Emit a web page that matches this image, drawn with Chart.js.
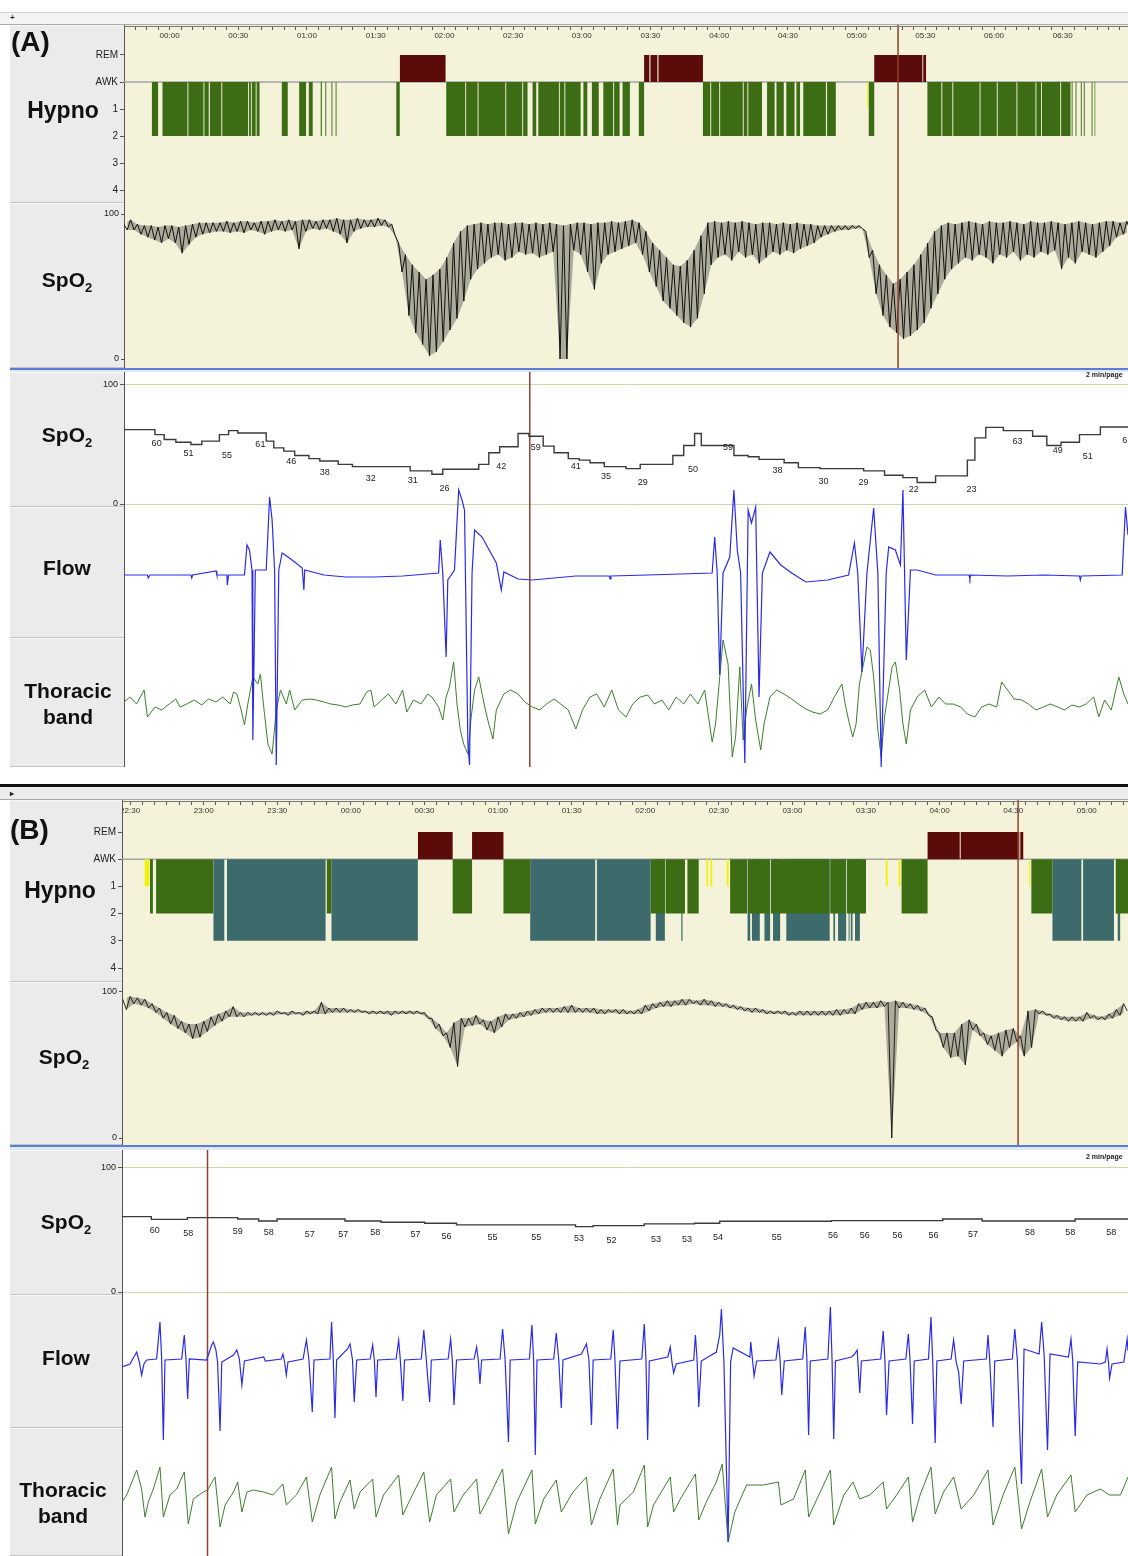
<!DOCTYPE html>
<html>
<head>
<meta charset="utf-8">
<title>Hypnogram, SpO2, flow and thoracic band</title>
<script src="https://cdn.jsdelivr.net/npm/chart.js@4.4.1/dist/chart.umd.min.js"></script>
<style>
  html, body { margin: 0; padding: 0; background: #fff; }
  #page { position: relative; width: 1128px; height: 1556px; overflow: hidden; font-family: "Liberation Sans", Arial, sans-serif; }
  .cell { position: absolute; left: 10px; background: #ebebeb; box-sizing: border-box; border-top: 1px solid #f8f8f8; border-bottom: 1px solid #c4c4c4; z-index: 0; }
  .lbl { position: absolute; transform: translate(-50%, -50%); font-weight: bold; font-size: 21px; color: #111; white-space: nowrap; z-index: 5; }
  .lbl sub { font-size: 13px; vertical-align: -5px; line-height: 0; }
  .tag { position: absolute; font-weight: bold; font-size: 28px; color: #111; z-index: 5; }
  .mpp { position: absolute; font-size: 7px; font-weight: bold; color: #222; z-index: 5; white-space: nowrap; }
  .bar { position: absolute; left: 0; width: 1128px; box-sizing: border-box; }
  canvas { position: absolute; left: 10px; }
</style>
</head>
<body>
<div id="page">
  <!-- panel A header and label column -->
  <div class="bar" style="top:12px;height:13px;background:#f3f3f3;border-top:1px solid #cfcfcf;border-bottom:1px solid #a9a9a9;"></div>
  <div class="mpp" style="left:10px;top:13px;font-size:8px;">+</div>
  <div class="cell" style="top:25px;height:178px;width:114px;"></div>
  <div class="cell" style="top:203px;height:165px;width:114px;"></div>
  <div class="bar" style="top:368px;height:4px;left:10px;width:1118px;background:#dfe6f5;border-top:2px solid #5b7fd0;"></div>
  <div class="cell" style="top:372px;height:135px;width:114px;"></div>
  <div class="cell" style="top:507px;height:131px;width:114px;"></div>
  <div class="cell" style="top:638px;height:129px;width:114px;"></div>
  <div class="tag" style="left:11px;top:26px;">(A)</div>
  <div class="lbl" style="left:63px;top:110px;font-size:23px;">Hypno</div>
  <div class="lbl" style="left:67px;top:280px;">SpO<sub>2</sub></div>
  <div class="lbl" style="left:67px;top:435px;">SpO<sub>2</sub></div>
  <div class="lbl" style="left:67px;top:568px;">Flow</div>
  <div class="lbl" style="left:68px;top:691px;">Thoracic</div>
  <div class="lbl" style="left:68px;top:717px;">band</div>
  <div class="mpp" style="left:1086px;top:371px;">2 min/page</div>

  <!-- panel B header and label column -->
  <div class="bar" style="top:784px;height:3px;background:#111;"></div>
  <div class="bar" style="top:787px;height:13px;background:#ececec;border-bottom:1px solid #a9a9a9;"></div>
  <div class="mpp" style="left:10px;top:789px;font-size:8px;">&#9656;</div>
  <div class="cell" style="top:800px;height:182px;width:112px;"></div>
  <div class="cell" style="top:982px;height:163px;width:112px;"></div>
  <div class="bar" style="top:1145px;height:5px;left:10px;width:1118px;background:#dfe6f5;border-top:2px solid #5b7fd0;"></div>
  <div class="cell" style="top:1150px;height:145px;width:112px;"></div>
  <div class="cell" style="top:1295px;height:133px;width:112px;"></div>
  <div class="cell" style="top:1428px;height:128px;width:112px;"></div>
  <div class="tag" style="left:10px;top:814px;">(B)</div>
  <div class="lbl" style="left:60px;top:890px;font-size:23px;">Hypno</div>
  <div class="lbl" style="left:64px;top:1057px;">SpO<sub>2</sub></div>
  <div class="lbl" style="left:66px;top:1222px;">SpO<sub>2</sub></div>
  <div class="lbl" style="left:66px;top:1358px;">Flow</div>
  <div class="lbl" style="left:63px;top:1490px;">Thoracic</div>
  <div class="lbl" style="left:63px;top:1516px;">band</div>
  <div class="mpp" style="left:1086px;top:1153px;">2 min/page</div>
</div>

<script>
// ---- time of night in minutes from 00:00 ----
const timeA = { min: -19.9, max: 418.5 };
const timeB = { min: -93.3, max: 316.8 };

// hypnogram epochs [start, end] in minutes
const remA = [[100.5,120.5],[207.2,209.5],[210.0,213.0],[213.5,232.9],[307.7,328.7],[329.1,330.4]];
const n1A = [[304.6,305.2]];
const n2A = [[-7.8,-5.0],[-3.1,7.8],[8.2,14.8],[15.2,17.1],[17.6,22.6],[23.0,34.3],[34.7,35.5],[35.9,37.6],[38.0,39.3],
  [49.0,51.6],[56.6,59.6],[60.8,62.5],[66.0,66.5],[68.0,68.4],[70.7,71.1],[72.5,72.9],[99.0,100.5],
  [120.8,129.1],[129.5,134.5],[134.9,146.6],[147.0,154.0],[154.4,156.3],[158.5,160.1],[161.0,170.0],[170.4,172.4],
  [172.8,179.5],[180.7,182.4],[184.4,187.4],[189.4,193.7],[194.1,196.5],[197.8,201.0],[204.9,207.2],
  [232.9,236.1],[236.5,240.0],[240.4,245.6],[246.0,250.3],[250.7,252.3],[252.7,258.7],[260.9,264.2],[265.0,268.2],
  [269.3,272.9],[273.7,275.3],[276.7,286.6],[287.1,290.9],[305.3,307.7],
  [330.9,337.0],[337.4,341.8],[342.2,353.7],[354.1,361.2],[361.6,369.8],[370.2,378.1],[378.5,380.5],[380.9,388.9],
  [389.3,393.4],[393.9,394.3],[395.6,396.0],[397.9,398.3],[399.2,399.6],[402.6,403.0],[403.9,404.3]];
const n3A = [];

const remB = [[27.3,41.5],[49.4,62.2],[235.1,248.2],[248.6,272.5],[272.9,274.2]];
const n1B = [[-84.1,-82.2],[145.0,145.6],[146.6,147.3],[153.2,154.0],[218.1,218.8],[223.3,224.0],[276.5,277.0]];
const n2B = [[-81.9,-80.7],[-79.4,-56.1],[-9.8,-7.9],[41.5,49.4],[62.2,73.1],[122.2,128.0],[128.3,136.2],[137.2,141.8],
  [154.6,161.5],[161.9,170.8],[171.2,175.0],[175.3,195.0],[195.4,201.8],[202.2,210.0],[224.5,235.1],[277.4,286.0],[311.8,316.8]];
const n3B = [[-56.1,-51.6],[-50.5,-10.3],[-7.9,27.3],[73.1,99.6],[100.3,122.2],[124.3,128.0],[134.7,135.2],[161.7,162.8],
  [163.5,166.7],[168.6,170.9],[172.1,175.0],[177.5,195.2],[196.7,197.4],[198.6,201.9],[202.9,203.3],[203.8,204.5],
  [205.5,207.5],[286.0,297.8],[298.5,311.1],[312.6,313.7]];

// whole-night SpO2 (%), max and min per 3-minute bin
const spoStartA = -20, spoStartB = -93, spoBin = 3;
const spoHiA = [93,96,93,92,92,91,92, 92,91,92,93,94,94,94, 94,95,94,95,95,94,95,95,96,95,
  96,95,96,96,95,96,96,97,96,96,97,96,96,97,96,93, 80,72,65,60,55,58,62,70,80,88,
  92,93,94,93,94,94,93,94,94,93,94,93,94, 93,92, 93,94,94,93,94,94,95,94,95,96,94,
  88,80,75,70,65,64,68,75,85, 94,95,94,95,94,95,94,93,94,94,93,94,93,94,93,93,92,92,92,92,92,92,92,
  88,75,65,58,52,55,60,65,72,80, 88,92,94,93,94,95,94,93,95,94,94,95,94,93,95,94,94,95,94,93,94,95,94,93,94,95,95,94,95];
const spoLoA = [89,89,86,84,82,80,83, 80,73,79,84,86,87,88, 88,87,88,87,89,88,86,88,89,88,
  89,76,88,90,89,90,88,86,80,88,90,91,91,92,91,85, 60,30,18,10,2,5,12,20,28,40,
  55,62,66,70,72,68,70,74,72,73,70,72,74, 0,0, 75,72,60,48,66,72,74,76,78,80,72,
  60,50,40,35,30,25,22,28,45, 65,70,72,68,74,70,72,66,70,74,72,75,73,76,78,80,84,86,88,89,89,90,90,
  70,45,30,22,18,14,16,20,25,35, 45,55,62,66,70,68,72,70,66,72,70,74,68,72,70,74,72,75,62,70,66,74,72,70,74,78,84,86,88];
const spoHiB = [95,97,96,95,92,89,86,84,80,78,78,80,83,85,87,90,86,86,86,86,86,87,86,87,86,87,87,93,89,89,
  89,88,88,87,87,87,87,87,87,87,87,86,82,78,72,79,82,82,84,81,80,83,85,85,86,87,88,89,89,89,
  90,91,89,89,89,88,88,88,88,87,88,91,92,93,94,94,95,95,94,95,94,93,92,91,90,89,89,88,87,87,
  87,86,87,87,87,87,87,88,88,89,92,93,93,94,93,94,93,92,91,89,83,72,72,72,78,81,78,72,70,72,
  74,75,70,87,88,87,85,84,83,83,83,86,84,83,85,88,92];
const spoLoB = [88,92,91,89,86,82,78,75,72,68,69,73,77,80,83,83,83,84,84,84,84,85,84,85,84,85,85,85,86,86,
  86,86,86,85,85,85,84,85,85,85,85,82,75,70,62,49,76,77,78,74,72,76,81,82,83,84,85,86,86,86,
  86,86,86,86,85,85,86,85,85,85,85,87,89,90,90,91,91,92,91,91,90,90,89,88,87,86,86,85,85,85,
  84,84,84,84,84,84,84,84,85,85,88,89,89,90,0,89,89,88,87,84,74,62,55,56,50,74,70,64,60,56,
  62,66,56,62,85,84,82,81,80,80,80,82,81,81,82,84,87];

// 2-minute pages: time in seconds, SpO2 in %, flow and thoracic band in arbitrary units
const cursorA = 318.1, cursorB = 272.0, pageCursorA = 48.5, pageCursorB = 10.2;

const pageSpoA = [[0,64.7],[3.7,62.5],[4.8,58.3],[6.2,54.2],[8.0,51.9],[9.3,50],[11.4,52.8],[12.5,58.3],[13.6,61.7],[17.0,59.7],
  [17.9,52.8],[19.1,47.2],[20.4,44.4],[22.1,40.8],[23.4,38.1],[25.6,36.1],[27.3,33.3],[34.2,31.4],[36.8,27.8],[38.1,25],
  [42.4,29.2],[43.6,33.3],[44.9,43.1],[47.1,48.1],[48.4,59.2],[50.1,56.9],[51.4,48.6],[53.1,43.1],[54.4,38.1],[55.7,36.9],
  [57.4,34.7],[60.0,31.4],[61.7,29.7],[65.6,33.3],[66.9,40.8],[68.2,49.2],[69.0,59.2],[72.9,49.2],[74.6,40.8],[75.9,39.7],
  [78.9,37.5],[80.6,34.7],[83.2,30.6],[88.4,29.7],[90.9,27.8],[93.1,24.2],[94.8,22.2],[97.0,18.1],[100.8,23.6],[101.7,36.9],
  [103.0,55.6],[105.1,64.4],[108.6,61.7],[110.3,56.9],[112.0,49.2],[114.2,51.9],[116.7,58.3],[117.6,64.7],[120,64.7]];
const pageSpoLabelsA = [[3.9,'60'],[7.7,'51'],[12.3,'55'],[16.3,'61'],[20.0,'46'],[24.0,'38'],[29.5,'32'],[34.5,'31'],[38.3,'26'],
  [45.1,'42'],[49.2,'59'],[54.0,'41'],[57.6,'35'],[62.0,'29'],[68.0,'50'],[72.2,'59'],[78.1,'38'],[83.6,'30'],[88.4,'29'],
  [94.4,'22'],[101.3,'23'],[106.8,'63'],[111.6,'49'],[115.2,'51'],[119.9,'61']];
const flowA = [[0,0],[2.8,0],[2.9,-3],[3.1,0],[8.0,0],[8.1,-3],[8.2,0],[11.0,4],[11.1,0],[12.3,0],[12.35,-10],[12.5,0],
  [14.4,0],[14.7,30],[15.0,25],[15.3,5],[15.4,-165],[15.7,5],[17.0,5],[17.4,78],[17.7,55],[18.0,5],[18.2,-190],[18.5,5],
  [18.9,22],[19.6,18],[20.4,13],[21.3,7],[21.5,-15],[21.6,5],[23.9,0],[26.5,-2],[29.9,-2],[33.3,-1],[37.6,2],
  [37.8,35],[38.1,2],[38.5,-82],[38.7,-5],[39.5,5],[40.0,85],[40.4,75],[40.7,65],[41.1,-168],[41.3,-190],[41.6,2],
  [41.9,45],[42.8,38],[44.5,12],[45.1,-15],[45.4,3],[47.1,-4],[48.8,-5],[54.0,-1],[58.0,-1],[58.1,-4],[58.2,-1],[62.6,0],[70.3,2],
  [70.6,38],[70.9,2],[71.2,-100],[71.6,2],[72.4,18],[72.9,85],[73.3,25],[73.7,2],[74.2,-188],[74.6,65],[75.0,52],
  [75.5,68],[75.9,-122],[76.3,2],[77.2,23],[78.5,10],[79.8,2],[81.5,-7],[84.1,-5],[86.6,0],
  [87.3,32],[87.7,2],[88.2,-97],[88.8,2],[89.6,67],[90.1,2],[90.5,-192],[91.1,2],[91.4,28],[92.2,25],[92.8,10],
  [93.1,85],[93.5,-85],[94.0,5],[94.8,5],[97.0,0],[101.0,0],[101.1,-4],[101.2,0],[105.6,-1],[109.9,0],[114.2,-1],[114.3,-5],[114.4,-1],
  [119.3,0],[119.7,68],[120,40]];
const thorA = [[0,0],[0.7,5],[1.5,-2],[2.4,12],[2.8,-15],[3.7,-5],[4.5,-8],[5.4,-2],[6.2,3],[6.7,-5],[7.5,-2],[8.4,2],
  [9.3,-3],[10.1,3],[11.0,0],[11.8,5],[12.7,-2],[13.1,10],[13.5,8],[14.0,-8],[14.4,-23],[14.8,-2],[15.4,25],[16.0,18],
  [16.3,28],[16.7,-5],[17.2,-42],[17.7,-52],[18.2,-8],[18.7,12],[19.4,-2],[19.8,12],[20.4,-8],[21.3,2],[22.2,3],[23.0,2],
  [23.9,0],[24.7,-2],[25.6,-3],[26.5,-5],[27.3,-3],[28.2,-2],[29.0,10],[29.5,12],[29.9,-5],[30.8,2],[31.6,8],[32.5,-2],
  [33.3,12],[33.8,-10],[34.6,2],[35.5,-2],[36.3,8],[36.8,5],[37.6,-5],[38.1,-18],[38.5,5],[38.9,15],[39.4,40],[39.8,-2],
  [40.2,-28],[40.6,-42],[41.1,-52],[41.5,-15],[41.9,12],[42.4,25],[42.8,8],[43.2,-8],[43.6,-22],[44.1,-37],[44.5,-8],
  [45.4,8],[46.2,12],[47.1,8],[47.9,0],[48.8,-5],[49.7,-8],[50.5,-2],[51.4,3],[52.2,-2],[53.1,-8],[54.0,-27],[54.8,-8],
  [55.7,5],[56.5,8],[57.4,-5],[58.3,12],[59.1,-8],[60.0,-15],[60.8,-2],[61.7,5],[62.6,7],[63.4,-2],[64.3,2],[65.1,-8],
  [66.0,5],[66.9,-2],[67.7,8],[68.6,-2],[69.4,12],[70.3,-40],[70.7,-22],[71.6,62],[72.2,38],[72.7,-55],[73.1,-35],
  [73.6,35],[74.0,-38],[74.4,-8],[75.0,18],[75.5,-18],[76.1,-48],[76.5,-22],[77.2,5],[78.0,12],[78.9,8],[79.8,3],
  [80.6,-2],[81.5,-7],[82.3,-10],[83.2,-12],[84.1,-8],[84.9,5],[85.8,18],[86.2,-2],[86.6,-18],[87.1,-35],[87.5,-22],
  [87.9,18],[88.8,55],[89.2,52],[89.6,25],[90.1,-28],[90.5,-55],[90.9,-15],[91.8,35],[92.2,40],[92.7,12],[93.1,-22],
  [93.5,-42],[94.0,-8],[94.8,5],[95.7,12],[96.5,-5],[97.4,5],[98.2,-2],[99.1,-2],[100.0,-5],[100.8,-12],[101.7,-15],
  [102.5,-5],[103.4,-2],[104.3,-5],[104.9,20],[105.6,12],[106.4,3],[107.3,2],[108.1,-2],[109.0,-8],[109.9,-5],[110.7,-2],
  [111.6,-5],[112.4,-8],[113.3,-3],[114.2,-5],[115.0,-2],[115.9,5],[116.5,-15],[117.2,2],[118.0,-8],[118.9,25],[119.5,8],[120,-2]];

const pageSpoB = [[0,61.6],[3.5,60.8],[7.8,58.6],[13.8,60],[16.3,58.9],[18.5,57.3],[26.6,58.9],[30.9,57.3],[36.1,56.2],
  [39.9,55.4],[54.1,54.1],[56.2,52.7],[62.3,53.5],[68.3,54.9],[71.3,55.4],[84.6,57],[97.9,57.6],[102.6,58.9],[113.7,57.3],
  [117.6,58.9],[120,58.9]];
const pageSpoLabelsB = [[3.9,'60'],[7.9,'58'],[13.8,'59'],[17.5,'58'],[22.4,'57'],[26.4,'57'],[30.2,'58'],[35.0,'57'],[38.7,'56'],
  [44.2,'55'],[49.4,'55'],[54.5,'53'],[58.4,'52'],[63.7,'53'],[67.4,'53'],[71.1,'54'],[78.1,'55'],[84.8,'56'],[88.6,'56'],
  [92.5,'56'],[96.8,'56'],[101.5,'57'],[108.3,'58'],[113.1,'58'],[118.0,'58']];
const flowB = [[0,-6],[0.95,-3],[1.75,9],[2.07,-1],[2.34,-14],[2.62,-3],[2.94,1],[4.13,2],[4.53,39],[4.73,2],[4.93,-79],[5.13,1],
  [7.12,2],[7.43,26],[7.63,2],[7.83,-38],[8.03,2],[10.1,1],[10.7,16],[10.9,19],[11.2,11],[11.4,-1],[11.7,-70],[11.9,-1],
  [13.3,6],[13.7,11],[14.0,2],[14.3,-24],[14.6,0],[16.9,4],[17.1,0],[19.0,2],[19.2,7],[19.4,-1],[19.6,-14],[19.8,-1],
  [21.6,2],[22.0,21],[22.3,1],[22.7,-51],[22.9,1],[24.8,2],[25.0,39],[25.2,2],[25.4,-57],[25.6,1],[26.9,12],[27.2,17],
  [27.5,1],[27.7,-41],[28.0,1],[29.6,2],[29.9,16],[30.1,1],[30.3,-36],[30.5,1],[32.7,2],[33.0,21],[33.2,1],[33.5,-40],
  [33.7,1],[35.7,2],[36.0,31],[36.3,1],[36.7,-41],[36.9,1],[38.9,2],[39.2,22],[39.4,1],[39.6,-44],[39.9,1],[42.0,2],
  [42.3,14],[42.5,1],[42.7,-23],[42.9,1],[45.1,2],[45.4,32],[45.7,1],[46.1,-81],[46.3,1],[48.6,2],[48.9,36],[49.1,1],
  [49.3,-94],[49.5,1],[51.5,2],[51.8,28],[52.1,1],[52.4,-47],[52.6,1],[54.8,7],[55.1,12],[55.4,17],[55.7,1],[56.0,-64],
  [56.2,1],[58.3,2],[58.6,31],[58.8,1],[59.1,-68],[59.4,0],[62.0,2],[62.3,37],[62.5,1],[62.7,-79],[62.9,0],[65.1,4],
  [65.4,14],[65.6,-1],[65.8,-12],[66.1,-3],[68.2,1],[68.4,26],[68.6,1],[68.8,-46],[69.1,0],[70.9,9],[71.3,26],[71.5,52],
  [71.8,-1],[72.3,-181],[72.6,-1],[72.9,13],[74.9,4],[75.0,19],[75.2,2],[75.4,-15],[75.7,0],[78.0,1],[78.3,20],[78.5,1],
  [78.7,-34],[79.0,0],[81.2,2],[81.5,34],[81.7,1],[81.9,-74],[82.1,0],[84.2,2],[84.5,54],[84.7,1],[84.9,-78],[85.1,0],
  [87.0,4],[87.3,6],[87.7,11],[88.0,-32],[88.2,0],[90.5,2],[90.8,30],[91.0,1],[91.2,-54],[91.5,0],[93.5,2],[93.8,27],
  [94.0,1],[94.3,-63],[94.5,0],[96.2,2],[96.5,44],[96.7,1],[97.0,-82],[97.2,0],[98.9,2],[99.2,21],[99.5,-1],[99.8,-11],
  [100.1,-43],[100.4,0],[103.1,2],[103.3,26],[103.5,1],[103.9,-66],[104.1,0],[106.2,2],[106.5,32],[106.8,1],[107.3,-123],
  [107.6,12],[109.4,7],[109.7,39],[110.0,6],[110.4,-89],[110.7,7],[112.9,4],[113.2,22],[113.4,1],[113.7,-75],[114.0,-1],
  [116.7,-3],[117.3,-1],[117.5,12],[117.7,-4],[117.8,-17],[118.1,-3],[119.5,-1],[119.9,22],[120,10]];
const thorB = [[0,0],[0.56,7],[1.75,32],[2.34,13],[2.74,-15],[3.14,0],[3.74,13],[4.53,35],[4.93,-15],[5.72,7],[6.52,13],
  [7.43,30],[7.91,-22],[8.51,3],[9.7,10],[10.2,12],[11.1,25],[11.7,-25],[12.3,-3],[13.3,10],[13.8,20],[14.3,-10],[14.9,10],
  [15.7,12],[16.9,10],[18.0,7],[19.2,18],[19.6,-3],[20.8,7],[22.0,25],[22.7,-20],[23.6,7],[25.0,35],[25.4,-17],[26.0,0],
  [27.2,22],[27.7,-7],[28.4,10],[29.9,23],[30.3,-15],[31.2,7],[33.0,27],[33.5,-13],[34.4,3],[36.0,30],[36.7,-20],[37.5,7],
  [39.2,23],[39.6,-10],[40.7,7],[42.3,23],[42.7,-12],[43.9,7],[45.4,33],[46.1,-32],[47.1,0],[48.9,32],[49.3,-22],[50.3,3],
  [51.8,22],[52.4,-10],[53.8,10],[55.4,25],[56.0,-23],[57.0,3],[58.6,33],[59.1,-23],[59.4,-3],[61.0,10],[62.3,37],
  [62.7,-25],[63.4,-3],[65.4,25],[65.8,-10],[66.6,3],[68.4,28],[68.8,-18],[69.7,0],[70.9,20],[71.6,38],[72.3,-40],
  [73.1,-10],[74.5,17],[76.5,17],[78.3,20],[78.6,-3],[80.1,3],[81.5,32],[81.9,-15],[82.9,3],[84.5,32],[84.9,-23],[86.1,7],
  [87.2,20],[88.0,3],[89.2,7],[90.8,20],[91.2,-7],[92.4,7],[93.8,25],[94.3,-20],[95.2,7],[96.5,35],[97.0,-12],[98.0,10],
  [99.2,25],[100.1,-7],[101.6,7],[103.3,32],[103.9,-23],[105.1,7],[106.5,35],[107.3,-27],[108.3,0],[109.7,33],[110.4,-15],
  [111.5,7],[113.2,27],[113.7,-10],[115.1,7],[116.7,13],[117.8,7],[119.1,7],[120,25]];

// ---- styling ----
Chart.defaults.font.family = '"Liberation Sans", Arial, sans-serif';
Chart.defaults.color = '#222';
const BEIGE = '#f4f3d9';
const CURSOR = '#94402f';
const FONT = '"Liberation Sans", Arial, sans-serif';

function hhmm(v) {
  const h = ((Math.floor(v / 60) % 24) + 24) % 24;
  const m = ((Math.round(v) % 60) + 60) % 60;
  return String(h).padStart(2, '0') + ':' + String(m).padStart(2, '0');
}

function fiveMinTicks(scale) {
  const out = [];
  for (let v = Math.ceil(scale.min / 5) * 5; v <= scale.max; v += 5) out.push({ value: v });
  scale.ticks = out;
}

function pin(scale, width) {
  scale.width = width;
  scale.paddingTop = 0;
  scale.paddingBottom = 0;
}

// value range of an axis so that v0 sits at page y0 and v1 at page y1, for a canvas from top to bottom
function span(top, bottom, y0, v0, y1, v1) {
  const k = (v1 - v0) / (y0 - y1);
  return { min: v0 - (bottom - y0) * k, max: v0 + (y0 - top) * k };
}

function blocks(list, level) {
  const pts = [];
  list.forEach(([a, b]) => pts.push({ x: a, y: 0 }, { x: a, y: level }, { x: b, y: level }, { x: b, y: 0 }));
  return pts;
}

// max at the start of each bin, min half a bin later
function zigzag(t0, hi, lo) {
  const pts = [];
  hi.forEach((h, i) => {
    pts.push({ x: t0 + i * spoBin, y: h });
    pts.push({ x: t0 + i * spoBin + spoBin / 2, y: lo[i] });
  });
  return pts;
}
const edge = (t0, vals, shift) => vals.map((v, i) => ({ x: t0 + i * spoBin + shift, y: v }));

const xy = list => list.map(([x, y]) => ({ x, y }));

function bg(color) {
  return {
    id: 'bg',
    beforeDraw(chart) {
      const { ctx, chartArea } = chart;
      ctx.save();
      ctx.fillStyle = color;
      ctx.fillRect(chartArea.left, 0, chart.width - chartArea.left, chart.height);
      ctx.restore();
    }
  };
}

const clipLeft = {
  id: 'clipLeft',
  beforeDraw(chart) {
    const c = chart.ctx;
    c.save();
    c.beginPath();
    c.rect(chart.chartArea.left, 0, chart.width, chart.height);
    c.clip();
  },
  afterDraw(chart) { chart.ctx.restore(); }
};

function stepLabels(steps, items) {
  return {
    id: 'stepLabels',
    afterDatasetsDraw(chart) {
      const { ctx, chartArea, scales } = chart;
      ctx.save();
      ctx.beginPath();
      ctx.rect(chartArea.left, chartArea.top, chartArea.right - chartArea.left, chartArea.bottom - chartArea.top);
      ctx.clip();
      ctx.font = '9px ' + FONT;
      ctx.fillStyle = '#222';
      ctx.textAlign = 'center';
      ctx.textBaseline = 'middle';
      items.forEach(([s, txt]) => {
        let v = steps[0][1];
        steps.forEach(([t, val]) => { if (t <= s) v = val; });
        ctx.fillText(txt, scales.x.getPixelForValue(s), scales.ys.getPixelForValue(v) + 14);
      });
      ctx.restore();
    }
  };
}

function makeCanvas(top, height, z) {
  const c = document.createElement('canvas');
  c.width = 1118;
  c.height = height;
  c.style.top = top + 'px';
  c.style.width = '1118px';
  c.style.height = height + 'px';
  c.style.zIndex = z;
  document.getElementById('page').appendChild(c);
  return c;
}

const common = {
  responsive: false,
  animation: false,
  devicePixelRatio: 1,
  events: [],
  layout: { padding: 0 },
  elements: { point: { radius: 0 }, line: { tension: 0 } },
  plugins: { legend: { display: false }, tooltip: { enabled: false } }
};

function timeAxis(top, range, axisW) {
  const cv = makeCanvas(top, 17, 3);
  new Chart(cv, {
    type: 'line',
    data: { datasets: [] },
    options: {
      ...common,
      layout: { padding: { left: axisW, right: 0, top: 0, bottom: 0 } },
      scales: {
        x: {
          type: 'linear', position: 'bottom', min: range.min, max: range.max,
          afterBuildTicks: fiveMinTicks,
          afterFit: s => { s.height = 16; s.paddingLeft = 0; s.paddingRight = 0; },
          grid: { drawOnChartArea: false, tickLength: 4, tickColor: '#555' },
          border: { color: '#777' },
          ticks: { autoSkip: false, maxRotation: 0, minRotation: 0, padding: 1, font: { size: 8 }, color: '#333',
                   callback: v => (Math.round(v) % 30 === 0 ? hhmm(v) : '') }
        },
        y: { display: false }
      }
    },
    plugins: [clipLeft]
  });
}

function hypnoChart(top, height, range, axisW, yr, st, cursor) {
  const cv = makeCanvas(top, height, 1);
  const filled = (pts, color) => ({ data: pts, fill: 'origin', backgroundColor: color, borderColor: 'rgba(0,0,0,0)', borderWidth: 0 });
  new Chart(cv, {
    type: 'line',
    data: {
      datasets: [
        { data: [{ x: cursor, y: yr.min }, { x: cursor, y: yr.max }], borderColor: CURSOR, borderWidth: 1.5 },
        filled(blocks(st.n2, -2), '#3c6d15'),
        filled(blocks(st.n1, -1), '#f2f200'),
        filled(blocks(st.n3, -3), '#3d6b6c'),
        filled(blocks(st.rem, 1), '#5c0b0b'),
        { data: [{ x: range.min, y: 0 }, { x: range.max, y: 0 }], borderColor: '#a4a4a4', borderWidth: 1.5 }
      ]
    },
    options: {
      ...common,
      scales: {
        x: { type: 'linear', display: false, min: range.min, max: range.max },
        y: {
          min: yr.min, max: yr.max,
          afterBuildTicks: s => { s.ticks = [1, 0, -1, -2, -3, -4].map(v => ({ value: v })); },
          afterFit: s => pin(s, axisW),
          ticks: { font: { size: 10 }, color: '#222', padding: 2,
                   callback: v => (v === 1 ? 'REM' : v === 0 ? 'AWK' : String(-v)) },
          grid: { drawOnChartArea: false, tickLength: 4, tickColor: '#555' },
          border: { color: '#555' }
        }
      }
    },
    plugins: [bg(BEIGE)]
  });
}

function overviewChart(top, height, range, axisW, yr, t0, hi, lo, cursor, shade, lineW) {
  const cv = makeCanvas(top, height, 1);
  new Chart(cv, {
    type: 'line',
    data: {
      datasets: [
        { data: [{ x: cursor, y: yr.min }, { x: cursor, y: yr.max }], borderColor: CURSOR, borderWidth: 1.5 },
        { data: zigzag(t0, hi, lo), borderColor: '#111', borderWidth: lineW },
        { data: edge(t0, hi, 0), borderColor: 'rgba(0,0,0,0)', borderWidth: 0 },
        { data: edge(t0, lo, spoBin / 2), fill: '-1', backgroundColor: shade, borderColor: 'rgba(0,0,0,0)', borderWidth: 0 }
      ]
    },
    options: {
      ...common,
      scales: {
        x: { type: 'linear', display: false, min: range.min, max: range.max },
        y: {
          min: yr.min, max: yr.max,
          afterBuildTicks: s => { s.ticks = [{ value: 0 }, { value: 100 }]; },
          afterFit: s => pin(s, axisW),
          ticks: { font: { size: 9 }, color: '#222', padding: 2 },
          grid: { drawOnChartArea: false, tickLength: 3, tickColor: '#555' },
          border: { color: '#555' }
        }
      }
    },
    plugins: [bg(BEIGE)]
  });
}

function pageChart(top, height, axisW, r, spo, labels, flow, thor, cursor) {
  const cv = makeCanvas(top, height, 1);
  new Chart(cv, {
    type: 'line',
    data: {
      datasets: [
        { data: xy(flow), yAxisID: 'yf', borderColor: '#2b2be6', borderWidth: 1.2 },
        { data: xy(spo), yAxisID: 'ys', stepped: 'after', borderColor: '#3a3a3a', borderWidth: 1.4 },
        { data: xy(thor), yAxisID: 'yt', borderColor: '#3d7f2d', borderWidth: 1 },
        { data: [{ x: cursor, y: r.ys.min }, { x: cursor, y: r.ys.max }], yAxisID: 'ys', borderColor: CURSOR, borderWidth: 1.5 }
      ]
    },
    options: {
      ...common,
      scales: {
        x: { type: 'linear', display: false, min: 0, max: 120 },
        ys: {
          position: 'left', min: r.ys.min, max: r.ys.max,
          afterBuildTicks: s => { s.ticks = [{ value: 0 }, { value: 100 }]; },
          afterFit: s => pin(s, axisW),
          ticks: { font: { size: 9 }, color: '#222', padding: 2 },
          grid: { color: '#c6dca6', tickLength: 4, tickColor: '#555' },
          border: { color: '#555' }
        },
        yf: { display: false, min: r.yf.min, max: r.yf.max },
        yt: { display: false, min: r.yt.min, max: r.yt.max }
      }
    },
    plugins: [bg('#ffffff'), stepLabels(spo, labels)]
  });
}

// ---- panel A ----
hypnoChart(25, 178, timeA, 114, span(25, 203, 55, 1, 190, -4), { n1: n1A, n2: n2A, n3: n3A, rem: remA }, cursorA);
timeAxis(25, timeA, 114);
overviewChart(203, 165, timeA, 114, span(203, 368, 359, 0, 214, 100), spoStartA, spoHiA, spoLoA, cursorA, 'rgba(10,10,10,0.3)', 1);
pageChart(372, 395, 114, {
  ys: span(372, 767, 504, 0, 385, 100),
  yf: span(372, 767, 575, 0, 574, 1),
  yt: span(372, 767, 702, 0, 701, 1)
}, pageSpoA, pageSpoLabelsA, flowA, thorA, pageCursorA);

// ---- panel B ----
hypnoChart(800, 182, timeB, 112, span(800, 982, 832, 1, 968, -4), { n1: n1B, n2: n2B, n3: n3B, rem: remB }, cursorB);
timeAxis(800, timeB, 112);
overviewChart(982, 163, timeB, 112, span(982, 1145, 1138, 0, 992, 100), spoStartB, spoHiB, spoLoB, cursorB, 'rgba(10,10,10,0.3)', 0.9);
pageChart(1150, 406, 112, {
  ys: span(1150, 1556, 1292, 0, 1168, 100),
  yf: span(1150, 1556, 1361, 0, 1360, 1),
  yt: span(1150, 1556, 1502, 0, 1501, 1)
}, pageSpoB, pageSpoLabelsB, flowB, thorB, pageCursorB);
</script>
</body>
</html>
